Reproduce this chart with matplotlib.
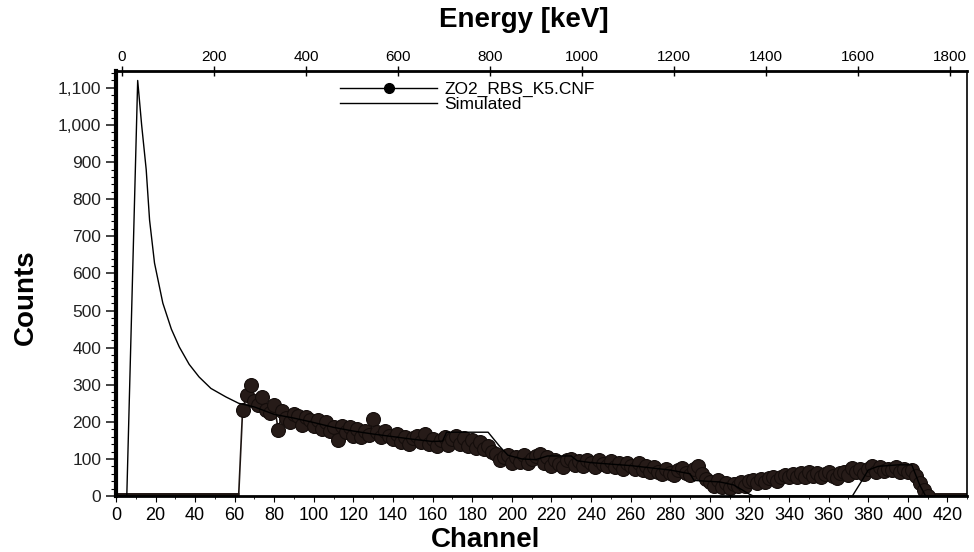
import numpy as np
import matplotlib
matplotlib.use("Agg")
from matplotlib import pyplot as plt
from matplotlib.ticker import MultipleLocator, FixedLocator, FuncFormatter

plt.rcParams['font.family'] = ['Liberation Sans', 'DejaVu Sans']

# 測定データ（ZO2_RBS_K5.CNF）: 2チャンネルごとの読み取り値
meas_ch = np.arange(64, 412, 2)
meas_counts = [232, 272, 299, 255, 245, 268, 232, 225, 245, 178,
               228, 210, 200, 222, 215, 192, 212, 205, 188, 204,
               182, 200, 175, 186, 151, 190, 172, 186, 162, 180,
               160, 176, 165, 208, 172, 158, 175, 162, 154, 166,
               146, 160, 140, 156, 162, 145, 168, 140, 155, 136,
               152, 160, 138, 154, 162, 140, 156, 136, 150, 130,
               145, 126, 136, 120, 112, 98, 104, 110, 90, 104,
               92, 110, 88, 100, 108, 112, 90, 104, 82, 98,
               86, 78, 96, 100, 84, 95, 82, 98, 88, 78,
               96, 86, 80, 94, 78, 90, 74, 88, 80, 72,
               88, 70, 82, 66, 78, 64, 60, 74, 62, 58,
               70, 76, 62, 58, 72, 80, 60, 46, 38, 28,
               42, 25, 36, 22, 32, 26, 38, 28, 40, 44,
               34, 46, 38, 48, 50, 40, 52, 58, 50, 60,
               52, 62, 50, 64, 54, 62, 50, 60, 64, 54,
               48, 62, 66, 56, 76, 64, 72, 60, 74, 80,
               66, 78, 68, 74, 70, 78, 66, 74, 64, 70,
               55, 35, 15, 0]
zero_low = [0, 62]      # 測定データがゼロの範囲
zero_high = [410, 430]

# シミュレーション曲線
sim_ch = [0, 5.5, 11, 13, 15.3, 17, 19.5, 23.7, 28, 32, 37, 42, 48, 55.6, 62,
          70, 80, 90, 100, 110, 120, 130, 140, 150, 160, 165, 167, 188, 194,
          198, 205, 212, 218, 230, 233, 240, 260, 280, 290, 292, 298, 305,
          312, 320, 322, 372, 377, 380, 385, 395, 402, 406, 409, 430]
sim_counts = [0, 0, 1120, 1000, 880, 744, 628, 520, 450, 402, 355, 321, 290,
              267, 250, 240, 220, 210, 198, 185, 175, 167, 160, 153, 147, 148,
              172, 172, 133, 110, 100, 98, 108, 108, 95, 90, 82, 70, 60, 42,
              40, 38, 30, 5, 0, 0, 43, 70, 80, 84, 84, 30, 0, 0]

# エネルギー軸の目盛り
energy_ticks = [0, 200, 400, 600, 800, 1000, 1200, 1400, 1600, 1800]

# エネルギー換算 (keV = a * (ch - ch0))
kev_per_ch = 4.302
ch0 = 3.0

fig = plt.figure(figsize=(9.74, 5.52), dpi=100)
ax = fig.add_axes([0.119, 0.1014, 0.874, 0.7696])

ch_all = np.concatenate([[zero_low[0], zero_low[1]], meas_ch, [zero_high[1]]])
cnt_all = np.concatenate([[0, 0], meas_counts, [0]])
ax.plot(ch_all, cnt_all, '-', color='#1e1512', lw=1.2)
ax.plot(zero_low, [0, 0], '-', color='#1e1512', lw=5, solid_capstyle='butt')
ax.plot(zero_high, [0, 0], '-', color='#1e1512', lw=5, solid_capstyle='butt')
ax.plot(meas_ch, meas_counts, 'o', color='#261b18', ms=10, mec='#140d0b', mew=0.8)
ax.plot(sim_ch, sim_counts, '-', color='black', lw=1.0)

# 凡例用ダミー
h1, = ax.plot([], [], '-', color='black', lw=1.0, marker='o', ms=7)
h2, = ax.plot([], [], '-', color='black', lw=1.0)
ax.legend([h1, h2], ['ZO2_RBS_K5.CNF', 'Simulated'], loc='upper left',
          bbox_to_anchor=(0.245, 1.012), frameon=False, handlelength=5.6,
          fontsize=12.5, labelspacing=0.0, handletextpad=0.4)

ax.set_xlim(0, 430)
ax.set_ylim(0, 1145)
ax.xaxis.set_major_locator(MultipleLocator(20))
ax.xaxis.set_minor_locator(MultipleLocator(10))
ax.yaxis.set_major_locator(MultipleLocator(100))
ax.yaxis.set_minor_locator(MultipleLocator(20))
ax.yaxis.set_major_formatter(FuncFormatter(lambda v, p: '{:,.0f}'.format(v)))
ax.tick_params(axis='y', which='major', length=7, width=1.2, labelsize=12.5, colors='#222222')
ax.tick_params(axis='y', which='minor', length=3.5, width=0.8)
ax.tick_params(axis='x', which='major', length=4, width=0.8, labelsize=13, pad=4)
ax.tick_params(axis='x', which='minor', length=2, width=0.6)

ax.spines['left'].set_linewidth(3)
ax.spines['bottom'].set_linewidth(2)
ax.spines['top'].set_linewidth(2)
ax.spines['right'].set_linewidth(1.2)

ax.set_xlabel('Channel', fontsize=20, fontweight='bold')
ax.xaxis.set_label_coords(0.434, -0.072)
ax.set_ylabel('Counts', fontsize=20, fontweight='bold')
ax.yaxis.set_label_coords(-0.09, 0.468)

top = ax.secondary_xaxis('top', functions=(lambda c: kev_per_ch * (c - ch0),
                                           lambda e: e / kev_per_ch + ch0))
top.xaxis.set_major_locator(FixedLocator(energy_ticks))
top.tick_params(axis='x', direction='inout', length=7, width=1.0, labelsize=11, pad=2)
ax.text(0.479, 1.12, 'Energy [keV]', transform=ax.transAxes, ha='center', va='center',
        fontsize=20, fontweight='bold')

fig.savefig('out.png', dpi=100)
plt.close()
